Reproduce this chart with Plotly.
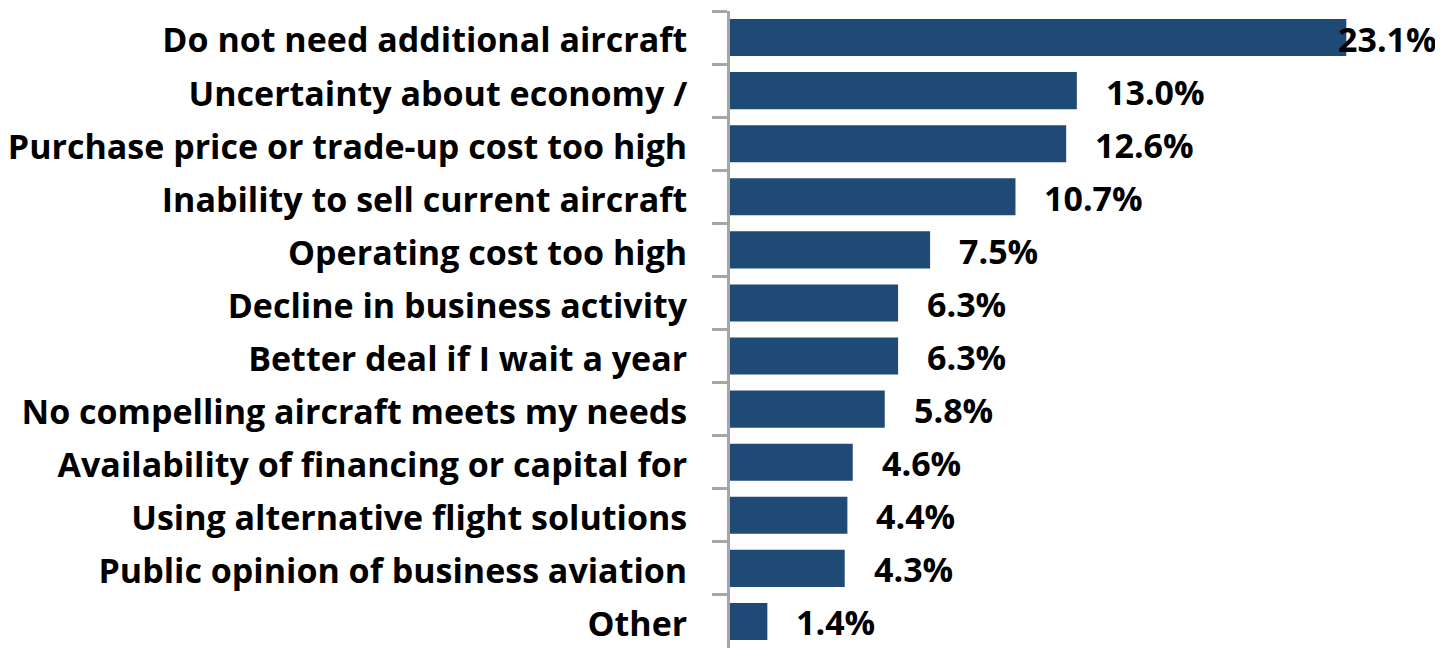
import plotly.graph_objects as go

reasons = [
    "Do not need additional aircraft",
    "Uncertainty about economy /",
    "Purchase price or trade-up cost too high",
    "Inability to sell current aircraft",
    "Operating cost too high",
    "Decline in business activity",
    "Better deal if I wait a year",
    "No compelling aircraft meets my needs",
    "Availability of financing or capital for",
    "Using alternative flight solutions",
    "Public opinion of business aviation",
    "Other",
]
shares = [23.1, 13.0, 12.6, 10.7, 7.5, 6.3, 6.3, 5.8, 4.6, 4.4, 4.3, 1.4]

font_family = "'Open Sans', sans-serif"
bar_color = "#1f4a75"

fig = go.Figure(go.Bar(
    x=shares, y=reasons, orientation="h",
    marker=dict(color=bar_color, line=dict(width=0)),
    hoverinfo="x+y",
))

# value labels, Excel style: a gap after the bar end
for r, v in zip(reasons, shares):
    shift = -10 if v == max(shares) else 27
    fig.add_annotation(x=v, y=r, text=f"<b>{v:.1f}%</b>", showarrow=False,
                       xanchor="left", xshift=shift, yshift=-1,
                       font=dict(family=font_family, size=34, color="black"))

# page body has an 8px margin, so the figure is shrunk by it
fig.update_layout(
    width=1435, height=641,
    margin=dict(l=722, r=46, t=3, b=1),
    paper_bgcolor="white", plot_bgcolor="white",
    bargap=0.3, showlegend=False,
    font=dict(family=font_family, size=34, color="black"),
)
fig.update_xaxes(range=[0, 25], visible=False, showgrid=False)
fig.update_yaxes(
    autorange="reversed", type="category",
    showline=True, linecolor="#a6a6a6", linewidth=3,
    ticks="outside", tickson="boundaries", ticklen=15, tickwidth=3, tickcolor="#a6a6a6",
    ticklabelstandoff=33, ticklabelshift=-3,
    tickfont=dict(family=font_family, size=34, color="black", weight="bold"),
    showgrid=False, zeroline=False,
)

fig.write_html("out.html")
